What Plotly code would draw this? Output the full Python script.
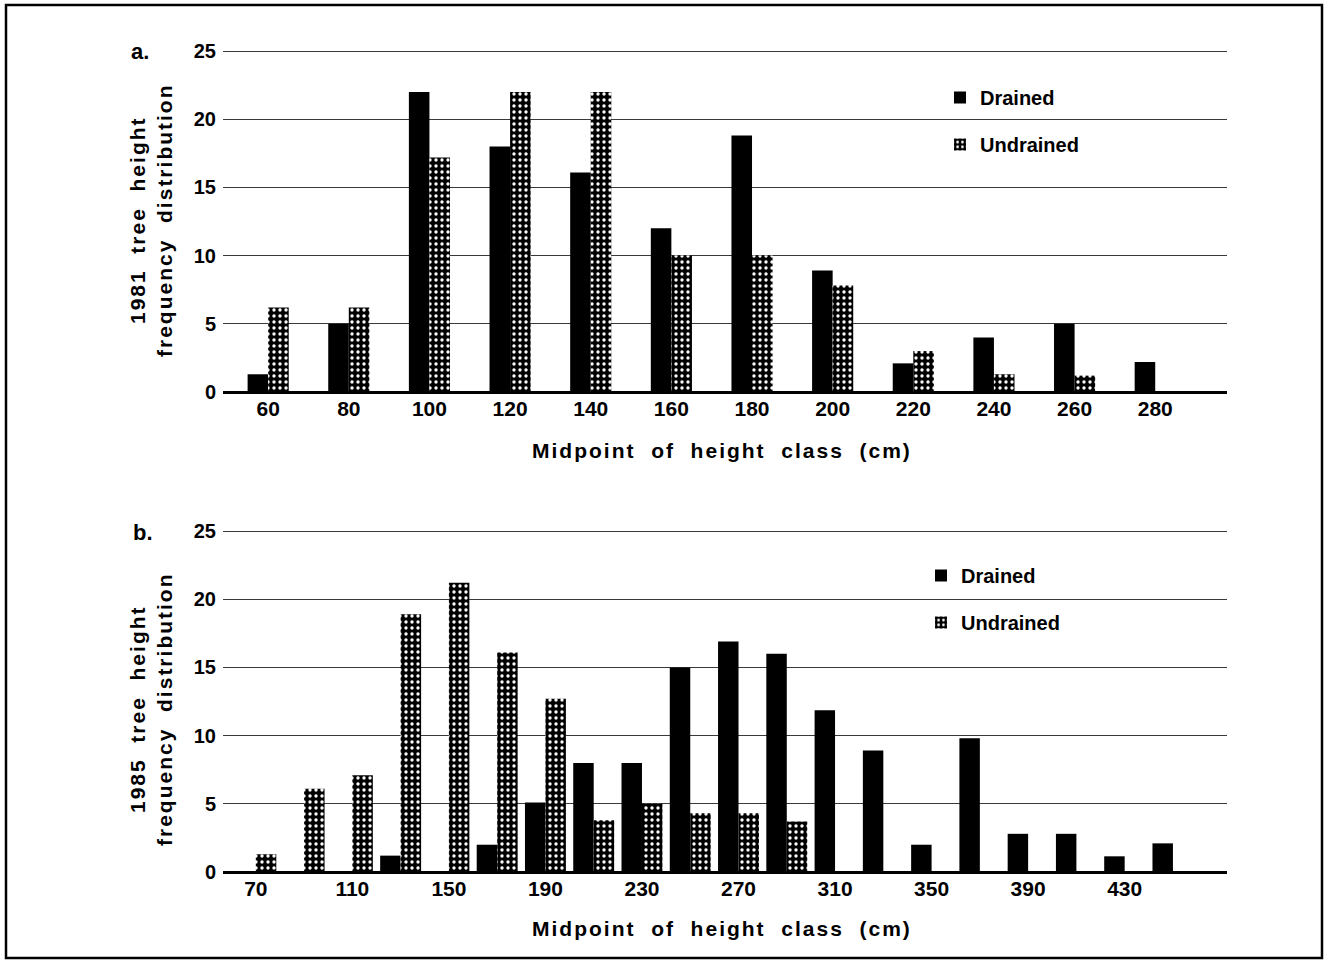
import plotly.graph_objects as go

# ---------------- data ----------------
cats_1981 = ["60", "80", "100", "120", "140", "160", "180", "200", "220", "240", "260", "280"]
drained_1981 = [1.3, 5.0, 22.0, 18.0, 16.1, 12.0, 18.8, 8.9, 2.1, 4.0, 5.0, 2.2]
undrained_1981 = [6.2, 6.2, 17.2, 22.0, 22.0, 10.0, 10.0, 7.8, 3.0, 1.3, 1.2, 0.0]

cats_1985 = ["70", "90", "110", "130", "150", "170", "190", "210", "230", "250",
             "270", "290", "310", "330", "350", "370", "390", "410", "430", "450"]
drained_1985 = [0.0, 0.0, 0.0, 1.2, 0.0, 2.0, 5.1, 8.0, 8.0, 15.0,
                16.9, 16.0, 11.85, 8.9, 2.0, 9.8, 2.8, 2.8, 1.15, 2.1]
undrained_1985 = [1.3, 6.1, 7.1, 18.9, 21.2, 16.1, 12.7, 3.8, 5.0, 4.3,
                  4.3, 3.7, 0.0, 0.0, 0.0, 0.0, 0.0, 0.0, 0.0, 0.0]
ticks_1985 = ["70", "110", "150", "190", "230", "270", "310", "350", "390", "430"]
yticks = [0, 5, 10, 15, 20, 25]

W, H = 1325, 962
FONT = "Liberation Sans, Arial, sans-serif"
LS = "letter-spacing:2px"


def spaced(s):
    return '<b><span style="%s">%s</span></b>' % (LS, s.replace(" ", " \u00a0"))


def px_x(v):
    return v / W


def px_y(v):
    return 1 - v / H


pattern = dict(shape=".", fgcolor="white", bgcolor="black", size=6, solidity=0.25, fillmode="replace")

fig = go.Figure()

w1 = 0.255
fig.add_trace(go.Bar(x=cats_1981, y=drained_1981, name="<b>Drained</b>", width=w1, offset=-w1,
                     marker=dict(color="black", line=dict(width=0)),
                     xaxis="x", yaxis="y", legend="legend", legendgroup="d1"))
fig.add_trace(go.Bar(x=cats_1981, y=undrained_1981, name="<b>Undrained</b>", width=w1, offset=0,
                     marker=dict(color="black", line=dict(width=0), pattern=pattern),
                     xaxis="x", yaxis="y", legend="legend", legendgroup="u1"))

w2 = 0.424
fig.add_trace(go.Bar(x=cats_1985, y=drained_1985, name="<b>Drained</b>", width=w2, offset=-w2,
                     marker=dict(color="black", line=dict(width=0)),
                     xaxis="x2", yaxis="y2", legend="legend2", legendgroup="d2"))
fig.add_trace(go.Bar(x=cats_1985, y=undrained_1985, name="<b>Undrained</b>", width=w2, offset=0,
                     marker=dict(color="black", line=dict(width=0), pattern=pattern),
                     xaxis="x2", yaxis="y2", legend="legend2", legendgroup="u2"))

# y range slightly above 25 so the 25 grid line is drawn (plotly skips lines on the edge)
YTOP = 25.15
scale = (392 - 51) / 25.0  # px per unit
top1 = 392 - YTOP * scale
top2 = 872 - YTOP * scale

xdom = [px_x(223), px_x(1227)]
common_x = dict(showgrid=False, showline=False, zeroline=False, ticks="", automargin=False,
                tickfont=dict(size=21, color="black", family=FONT, weight="bold"), ticklabelstandoff=2)
common_y = dict(range=[0, YTOP], tickvals=yticks, showgrid=True, gridcolor="#3a3a3a", gridwidth=1,
                zeroline=True, zerolinecolor="black", zerolinewidth=2.5, showline=False, ticks="",
                automargin=False,
                tickfont=dict(size=20, color="black", family=FONT, weight="bold"), ticklabelstandoff=6)

fig.update_layout(
    width=W, height=H, autosize=False,
    margin=dict(l=0, r=0, t=0, b=0, pad=0, autoexpand=False),
    paper_bgcolor="white", plot_bgcolor="white",
    font=dict(family=FONT, color="black"),
    barmode="overlay",
    xaxis=dict(domain=xdom, anchor="y", range=[-0.56, 11.89], **common_x),
    yaxis=dict(domain=[px_y(392), px_y(top1)], anchor="x", **common_y),
    xaxis2=dict(domain=xdom, anchor="y2", range=[-0.68, 20.12],
                tickmode="array", tickvals=ticks_1985, **common_x),
    yaxis2=dict(domain=[px_y(872), px_y(top2)], anchor="x2", **common_y),
    legend=dict(x=px_x(940), y=px_y(78), xanchor="left", yanchor="top",
                font=dict(size=20, color="black", family=FONT),
                traceorder="grouped", tracegroupgap=18, bgcolor="rgba(0,0,0,0)"),
    legend2=dict(x=px_x(921), y=px_y(556), xanchor="left", yanchor="top",
                 font=dict(size=20, color="black", family=FONT),
                 traceorder="grouped", tracegroupgap=18, bgcolor="rgba(0,0,0,0)"),
)

ann = []
ann.append(dict(text="<b>a.</b>", x=px_x(129), y=px_y(51), xanchor="left", yanchor="middle",
                showarrow=False, font=dict(size=22, color="black")))
ann.append(dict(text="<b>b.</b>", x=px_x(131), y=px_y(532), xanchor="left", yanchor="middle",
                showarrow=False, font=dict(size=22, color="black")))
ann.append(dict(text=spaced("1981 tree height") + "<br>" + spaced("frequency distribution"),
                x=px_x(151), y=px_y(220), xanchor="center", yanchor="middle", textangle=-90,
                showarrow=False, font=dict(size=21, color="black")))
ann.append(dict(text=spaced("1985 tree height") + "<br>" + spaced("frequency distribution"),
                x=px_x(151), y=px_y(709), xanchor="center", yanchor="middle", textangle=-90,
                showarrow=False, font=dict(size=21, color="black")))
ann.append(dict(text=spaced("Midpoint of height class (cm)"), x=px_x(722), y=px_y(450),
                xanchor="center", yanchor="middle", showarrow=False, font=dict(size=21, color="black")))
ann.append(dict(text=spaced("Midpoint of height class (cm)"), x=px_x(722), y=px_y(928),
                xanchor="center", yanchor="middle", showarrow=False, font=dict(size=21, color="black")))
for a in ann:
    a["xref"] = "paper"
    a["yref"] = "paper"
fig.update_layout(annotations=ann)

fig.add_shape(type="rect", xref="paper", yref="paper",
              x0=px_x(6), x1=px_x(1322), y0=px_y(958), y1=px_y(5),
              line=dict(color="black", width=2.5), fillcolor="rgba(0,0,0,0)")

fig.write_html(
    "out.html",
    config={"displayModeBar": False, "responsive": False},
    post_script=(
        "document.documentElement.style.margin='0';document.documentElement.style.overflow='hidden';"
        "document.body.style.margin='0';document.body.style.padding='0';document.body.style.overflow='hidden';"
        "var gd=document.getElementById('{plot_id}');gd.style.position='fixed';gd.style.top='0px';"
        "gd.style.left='0px';"
    ),
)
